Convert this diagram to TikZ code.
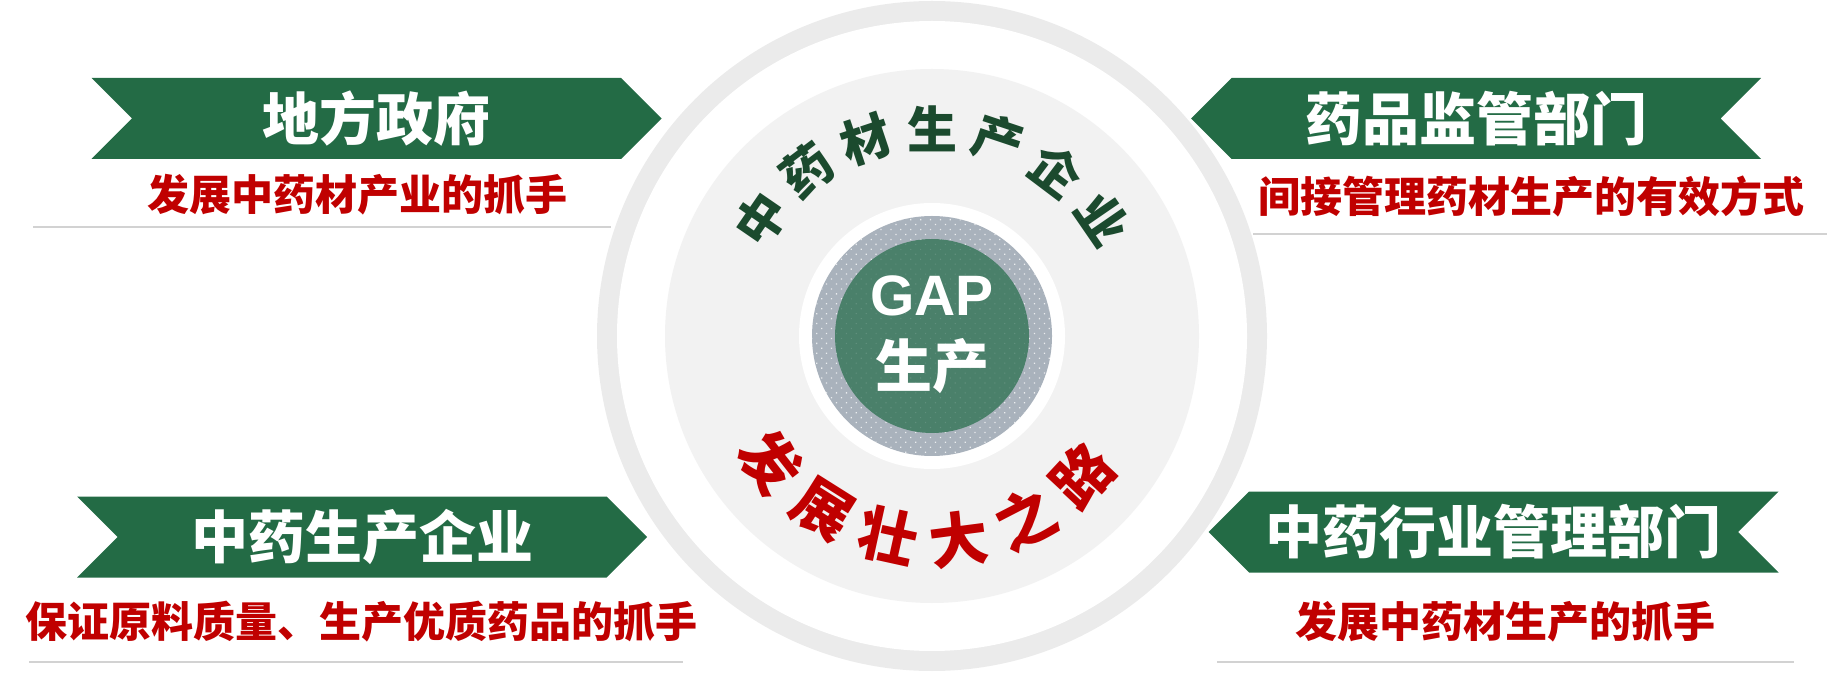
\documentclass[tikz,border=0pt]{standalone}
\usepackage{fontspec}
\usetikzlibrary{shapes.symbols,patterns.meta}
\newfontfamily\cjk{Noto Sans CJK SC}
\newfontfamily\latinsans{Liberation Sans}
\definecolor{bannergreen}{HTML}{236B45}
\definecolor{textred}{HTML}{C00000}
\definecolor{darkgreen}{HTML}{1B4A2E}
\definecolor{ringgray}{HTML}{EBEBEB}
\definecolor{diskgray}{HTML}{F2F2F2}
\definecolor{dotgray}{HTML}{A9B2BC}
\definecolor{hubgreen}{HTML}{4A806A}
\definecolor{rulegray}{HTML}{D2D2D2}

\begin{document}
\begin{tikzpicture}[x=1pt,y=1pt,
    banner/.style={signal, signal pointer angle=90, fill=bannergreen, text=white,
        minimum width=570pt, minimum height=81pt, inner sep=0pt,
        font=\cjk\bfseries\fontsize{57}{60}\selectfont},
    bannerR/.style={banner, signal to=east, signal from=west},
    bannerL/.style={banner, signal to=west, signal from=east},
    subline/.style={text=textred, inner sep=0pt, font=\cjk\bfseries\fontsize{42}{46}\selectfont},
    arctop/.style={text=darkgreen, inner sep=0pt, font=\cjk\bfseries\fontsize{50}{50}\selectfont},
    arcbot/.style={text=textred, inner sep=0pt, font=\cjk\bfseries\fontsize{59}{59}\selectfont},
    rule/.style={draw=rulegray, line width=1.5pt}]
    \useasboundingbox (0,0) rectangle (1830,675);
    \coordinate (hub) at (932,339);
    % rings round the centre
    \fill[ringgray] (hub) circle (335pt);
    \fill[white] (hub) circle (315pt);
    \fill[diskgray] (hub) circle (267pt);
    \fill[white] (hub) circle (133pt);
    \fill[dotgray] (hub) circle (120pt);
    \fill[pattern={Dots[radius=0.9pt,distance=7pt,angle=45]}, pattern color=white!75!dotgray] (hub) circle (120pt);
    \node[circle, fill=hubgreen, minimum size=194pt, inner sep=0pt] (gap) at (hub) {};
    \fill[pattern={Dots[radius=0.8pt,distance=7pt,angle=45]}, pattern color=white!12!hubgreen] (hub) circle (96pt);
    \node[text=white, font=\latinsans\bfseries\fontsize{57}{60}\selectfont] (gaptext) at (932,379) {GAP};
    \node[text=white, font=\cjk\bfseries\fontsize{57}{60}\selectfont] (gapprod) at (932,309) {生产};
    % text along the arcs
    \foreach \ch [count=\i] in {中,药,材,生,产,企,业} {
        \pgfmathsetmacro\ang{145.5-18.5*(\i-1)}
        \node[arctop, rotate=\ang-90] (top\i) at ([shift={(\ang:207pt)}]hub) {\ch};
    }
    \foreach \ch [count=\i] in {发,展,壮,大,之,路} {
        \pgfmathsetmacro\ang{218+19.8*(\i-1)}
        \node[arcbot, rotate=\ang+90] (bot\i) at ([shift={(\ang:205pt)}]hub) {\ch};
    }
    % rules under the notes
    \draw[rule] (33,448) -- (611,448);
    \draw[rule] (1253,441) -- (1827,441);
    \draw[rule] (29,13) -- (683,13);
    \draw[rule] (1217,13) -- (1794,13);
    % banners
    \node[bannerR] (gov) at (376.5,556.5) {地方政府};
    \node[bannerL] (fda) at (1476,556.5) {药品监管部门};
    \node[bannerR] (maker) at (362,138) {中药生产企业};
    \node[bannerL] (admin) at (1493.5,143) {中药行业管理部门};
    \node[subline] (govnote) at (357,480) {发展中药材产业的抓手};
    \node[subline] (fdanote) at (1531,478) {间接管理药材生产的有效方式};
    \node[subline] (makernote) at (361,53) {保证原料质量、生产优质药品的抓手};
    \node[subline] (adminnote) at (1505,53) {发展中药材生产的抓手};
\end{tikzpicture}
\end{document}
